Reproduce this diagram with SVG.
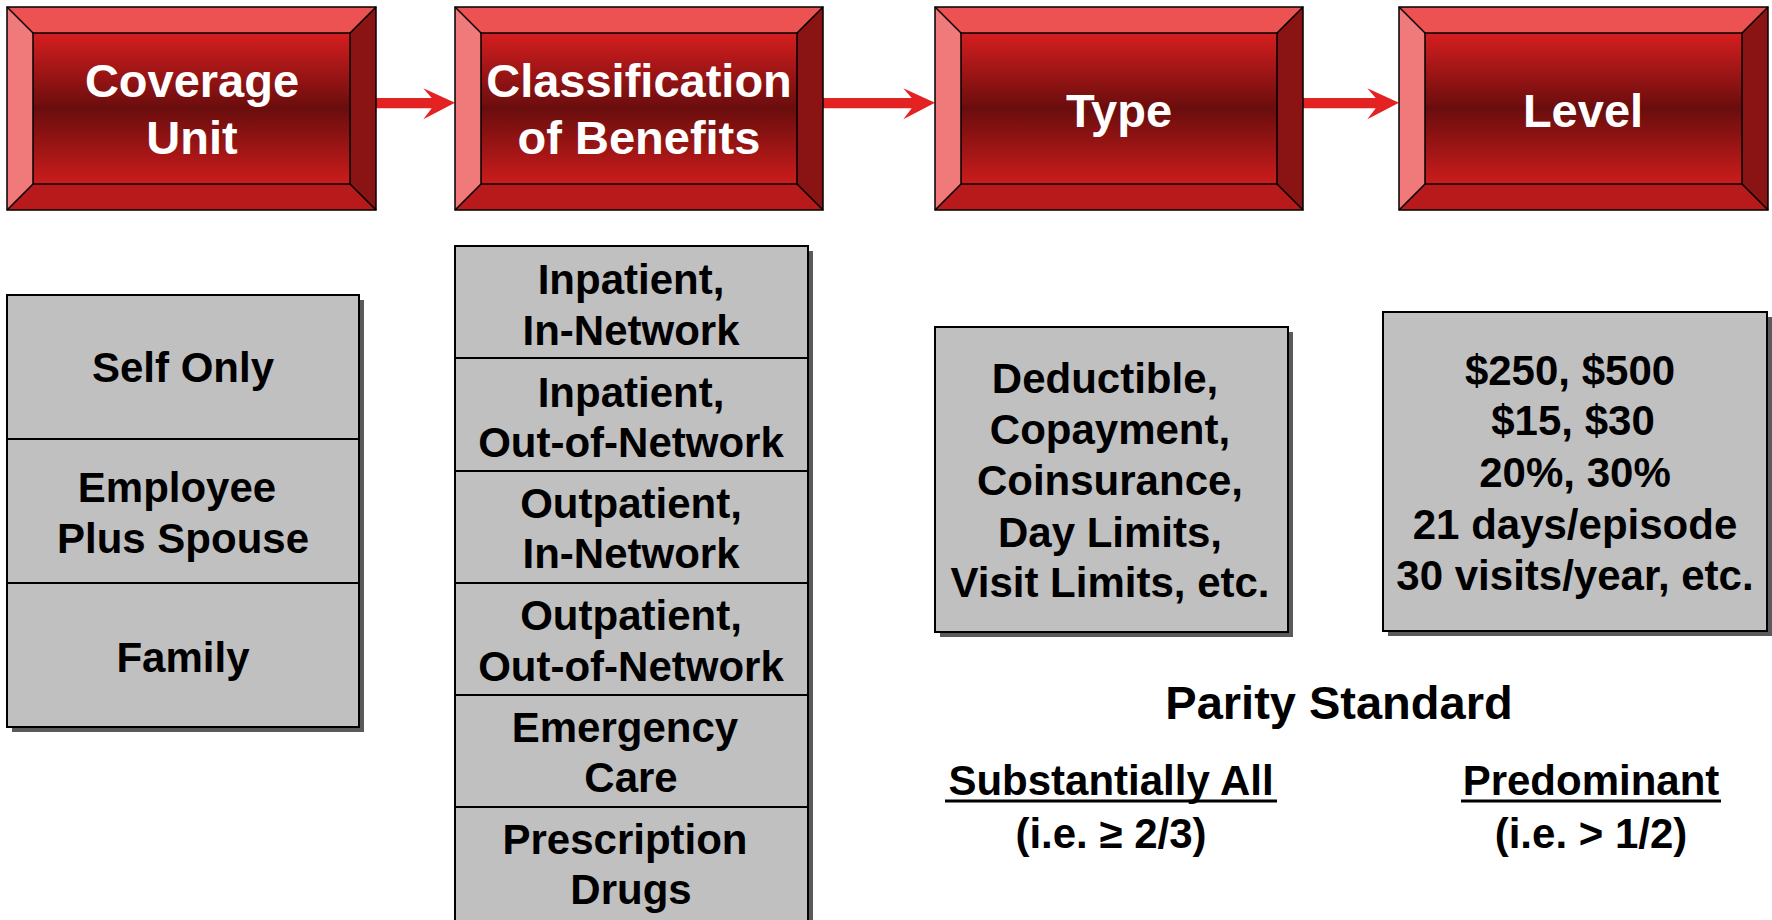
<svg xmlns="http://www.w3.org/2000/svg" width="1772" height="920" viewBox="0 0 1772 920">
<defs>
<linearGradient id="face" x1="0" y1="0" x2="0" y2="1">
<stop offset="0" stop-color="#d61e1f"/>
<stop offset="0.5" stop-color="#6a0d0d"/>
<stop offset="1" stop-color="#cc1c1c"/>
</linearGradient>
<style>
.hdr{font-family:"Liberation Sans",Arial,sans-serif;font-weight:bold;font-size:47px;fill:#ffffff;text-anchor:middle}
.txt{font-family:"Liberation Sans",Arial,sans-serif;font-weight:bold;font-size:42px;fill:#000000;text-anchor:middle}
.big{font-family:"Liberation Sans",Arial,sans-serif;font-weight:bold;font-size:47px;fill:#000000;text-anchor:middle}
.bl{stroke:#000;stroke-width:1.5;fill:none}
.gray{fill:#c0c0c0;stroke:#000;stroke-width:2}
.shadow{fill:#5a5a5a}
.div{stroke:#000;stroke-width:2}
.arrow{fill:#e32222}
.top{fill:#ec5252}
.left{fill:#f07a7a}
.right{fill:#8a1313}
.bot{fill:#b8191a}
</style>
</defs>
<rect width="1772" height="920" fill="#ffffff"/>

<g id="connectors">
<polygon class="arrow" points="376,98 431.7,98 423.3,88.3 455,102.7 423.3,119.3 431.7,108.3 376,108.3"/>
<polygon class="arrow" points="823,98 911.7,98 903.3,88.3 935,102.7 903.3,119.3 911.7,108.3 823,108.3"/>
<polygon class="arrow" points="1303,98 1375.7,98 1367.3,88.3 1399,102.7 1367.3,119.3 1375.7,108.3 1303,108.3"/>
</g>

<g id="hdr-coverage">
<polygon class="top" points="7,7 376,7 350,33 33,33"/>
<polygon class="left" points="7,7 33,33 33,184 7,210"/>
<polygon class="right" points="376,7 376,210 350,184 350,33"/>
<polygon class="bot" points="7,210 33,184 350,184 376,210"/>
<rect x="33" y="33" width="317" height="151" fill="url(#face)"/>
<rect class="bl" x="7" y="7" width="369" height="203"/>
<rect class="bl" x="33" y="33" width="317" height="151"/>
<path class="bl" d="M7,7 L33,33 M376,7 L350,33 M7,210 L33,184 M376,210 L350,184"/>
<text class="hdr" x="192" y="97">Coverage</text>
<text class="hdr" x="192" y="154">Unit</text>
</g>

<g id="hdr-classification">
<polygon class="top" points="455,7 823,7 797,33 481,33"/>
<polygon class="left" points="455,7 481,33 481,184 455,210"/>
<polygon class="right" points="823,7 823,210 797,184 797,33"/>
<polygon class="bot" points="455,210 481,184 797,184 823,210"/>
<rect x="481" y="33" width="316" height="151" fill="url(#face)"/>
<rect class="bl" x="455" y="7" width="368" height="203"/>
<rect class="bl" x="481" y="33" width="316" height="151"/>
<path class="bl" d="M455,7 L481,33 M823,7 L797,33 M455,210 L481,184 M823,210 L797,184"/>
<text class="hdr" x="639" y="97">Classification</text>
<text class="hdr" x="639" y="154">of Benefits</text>
</g>

<g id="hdr-type">
<polygon class="top" points="935,7 1303,7 1277,33 961,33"/>
<polygon class="left" points="935,7 961,33 961,184 935,210"/>
<polygon class="right" points="1303,7 1303,210 1277,184 1277,33"/>
<polygon class="bot" points="935,210 961,184 1277,184 1303,210"/>
<rect x="961" y="33" width="316" height="151" fill="url(#face)"/>
<rect class="bl" x="935" y="7" width="368" height="203"/>
<rect class="bl" x="961" y="33" width="316" height="151"/>
<path class="bl" d="M935,7 L961,33 M1303,7 L1277,33 M935,210 L961,184 M1303,210 L1277,184"/>
<text class="hdr" x="1119" y="127">Type</text>
</g>

<g id="hdr-level">
<polygon class="top" points="1399,7 1768,7 1742,33 1425,33"/>
<polygon class="left" points="1399,7 1425,33 1425,184 1399,210"/>
<polygon class="right" points="1768,7 1768,210 1742,184 1742,33"/>
<polygon class="bot" points="1399,210 1425,184 1742,184 1768,210"/>
<rect x="1425" y="33" width="317" height="151" fill="url(#face)"/>
<rect class="bl" x="1399" y="7" width="369" height="203"/>
<rect class="bl" x="1425" y="33" width="317" height="151"/>
<path class="bl" d="M1399,7 L1425,33 M1768,7 L1742,33 M1399,210 L1425,184 M1768,210 L1742,184"/>
<text class="hdr" x="1583" y="127">Level</text>
</g>

<g id="coverage-list">
<rect class="shadow" x="12" y="300" width="352" height="432"/>
<rect class="gray" x="7" y="295" width="352" height="432"/>
<line class="div" x1="7" y1="439" x2="359" y2="439"/>
<line class="div" x1="7" y1="583" x2="359" y2="583"/>
<text class="txt" x="183" y="382">Self Only</text>
<text class="txt" x="177" y="502">Employee</text>
<text class="txt" x="183" y="553">Plus Spouse</text>
<text class="txt" x="183" y="672">Family</text>
</g>

<g id="benefits-list">
<rect class="shadow" x="460" y="251" width="353" height="675"/>
<rect class="gray" x="455" y="246" width="353" height="675"/>
<line class="div" x1="455" y1="358" x2="808" y2="358"/>
<line class="div" x1="455" y1="471" x2="808" y2="471"/>
<line class="div" x1="455" y1="583" x2="808" y2="583"/>
<line class="div" x1="455" y1="695" x2="808" y2="695"/>
<line class="div" x1="455" y1="807" x2="808" y2="807"/>
<text class="txt" x="631" y="294">Inpatient,</text>
<text class="txt" x="631" y="345">In-Network</text>
<text class="txt" x="631" y="407">Inpatient,</text>
<text class="txt" x="631" y="457">Out-of-Network</text>
<text class="txt" x="631" y="518">Outpatient,</text>
<text class="txt" x="631" y="568">In-Network</text>
<text class="txt" x="631" y="630">Outpatient,</text>
<text class="txt" x="631" y="681">Out-of-Network</text>
<text class="txt" x="625" y="742">Emergency</text>
<text class="txt" x="631" y="792">Care</text>
<text class="txt" x="625" y="854">Prescription</text>
<text class="txt" x="631" y="904">Drugs</text>
</g>

<g id="type-box">
<rect class="shadow" x="940" y="332" width="353" height="305"/>
<rect class="gray" x="935" y="327" width="353" height="305"/>
<text class="txt" x="1105" y="393">Deductible,</text>
<text class="txt" x="1110" y="444">Copayment,</text>
<text class="txt" x="1110" y="495">Coinsurance,</text>
<text class="txt" x="1110" y="547">Day Limits,</text>
<text class="txt" x="1110" y="597">Visit Limits, etc.</text>
</g>

<g id="level-box">
<rect class="shadow" x="1388" y="317" width="384" height="319"/>
<rect class="gray" x="1383" y="312" width="384" height="319"/>
<text class="txt" x="1570" y="385">$250, $500</text>
<text class="txt" x="1573" y="435">$15, $30</text>
<text class="txt" x="1575" y="487">20%, 30%</text>
<text class="txt" x="1575" y="539">21 days/episode</text>
<text class="txt" x="1575" y="590">30 visits/year, etc.</text>
</g>

<g id="parity">
<text class="big" x="1339" y="719">Parity Standard</text>
<text class="txt" x="1111" y="795">Substantially All</text>
<line x1="945" y1="801" x2="1277" y2="801" stroke="#000" stroke-width="3"/>
<text class="txt" x="1111" y="848">(i.e. ≥ 2/3)</text>
<text class="txt" x="1591" y="795">Predominant</text>
<line x1="1461" y1="801" x2="1721" y2="801" stroke="#000" stroke-width="3"/>
<text class="txt" x="1591" y="848">(i.e. &gt; 1/2)</text>
</g>
</svg>
